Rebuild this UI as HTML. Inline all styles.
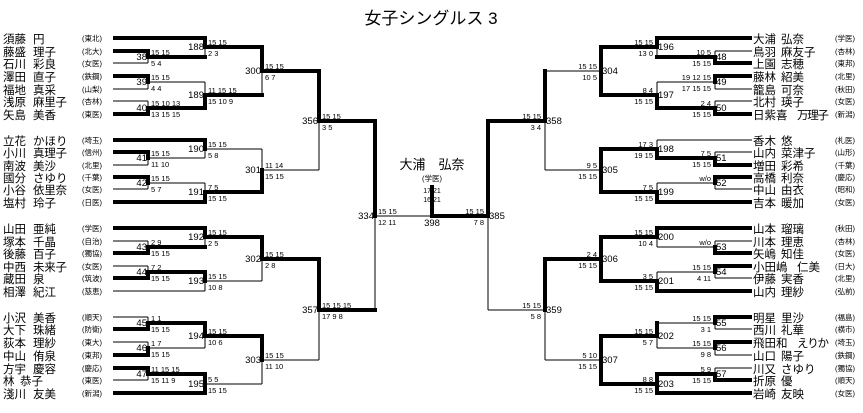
<!DOCTYPE html>
<html><head><meta charset="utf-8"><style>
html,body{margin:0;padding:0;background:#fff;}
svg{display:block;font-family:"Liberation Sans","Noto Sans CJK JP",sans-serif;}
.n{font-size:11.5px;}
.a{font-size:7.5px;}
.m{font-size:9.5px;}
.s{font-size:7.5px;}
.ml{text-anchor:end;}
</style></head><body>
<svg width="863" height="413" viewBox="0 0 863 413" xmlns="http://www.w3.org/2000/svg">
<rect width="863" height="413" fill="#fff"/>
<text x="431" y="24" font-size="17" text-anchor="middle">女子シングルス 3</text>

<path fill="none" stroke="#000" stroke-width="1" d="
M113 63H148 M148 57V63 M148 82V89 M113 89H148 M148 82H205 M113 101H148 M148 101V108 M205 47V57 M205 82V95 M262 71V95 M319 121V170
M113 165H148 M148 158V165 M148 158H205 M205 149V158 M205 149H262 M113 189H148 M148 183V189 M148 183H205 M205 183V192 M262 149V170 M262 170H319
M113 241H148 M148 241V247 M205 237V247 M113 266H148 M148 266V272 M113 291H205 M205 281V291 M205 281H262 M262 259V281 M319 310V360
M113 317H148 M148 317V323 M113 342H148 M148 342V348 M148 348H205 M205 336V348 M113 380H148 M148 374V380 M205 384H262 M262 360V384 M262 360H319
M375 216V310 M375 216H432 M488 216V310 M488 310H545
M715 51H752 M715 51V57 M657 47V57 M715 89H752 M715 82V89 M657 82H715 M657 82V95 M715 101H752 M715 101V108 M545 71H601 M545 121V170
M657 140H752 M657 140V149 M715 152H752 M715 152V158 M715 189H752 M715 183V189 M657 183H715 M657 183V192 M545 170H601
M715 241H752 M715 241V247 M657 247H715 M657 237V247 M715 278H752 M715 272V278 M657 272H715 M657 272V281 M545 310V360
M715 329H752 M715 323V329 M657 323H715 M715 355H752 M715 348V355 M657 348H715 M657 336V348 M715 368H752 M715 368V374 M545 360H601"/>

<path fill="none" stroke="#000" stroke-width="4" stroke-linecap="square" d="
M115 38H205 M115 51H148 M148 51V57 M148 57H205 M205 38V47 M205 47H262 M115 76H148 M148 76V82 M115 114H148 M148 108V114 M148 108H205 M205 95V108 M205 95H262 M262 47V71 M262 71H319 M319 71V121 M319 121H375
M115 140H205 M205 140V149 M115 152H148 M148 152V158 M115 177H148 M148 177V183 M115 202H205 M205 192V202 M205 192H262 M262 170V192
M115 228H205 M205 228V237 M205 237H262 M115 253H148 M148 247V253 M148 247H205 M115 278H148 M148 272V278 M148 272H205 M205 272V281 M262 237V259 M262 259H319 M319 259V310 M319 310H375
M115 329H148 M148 323V329 M148 323H205 M205 323V336 M205 336H262 M115 355H148 M148 348V355 M115 368H148 M148 368V374 M148 374H205 M115 393H205 M205 374V393 M262 336V360
M375 121V216 M432 187V216 M432 216H488 M488 121V216 M488 121H545
M657 38H750 M657 38V47 M715 63H750 M715 57V63 M657 57H715 M601 47H657 M715 76H750 M715 76V82 M715 114H750 M715 108V114 M657 108H715 M657 95V108 M601 95H657 M601 47V95 M545 71V121
M715 165H750 M715 158V165 M657 158H715 M657 149V158 M601 149H657 M715 177H750 M715 177V183 M657 202H750 M657 192V202 M601 192H657 M601 149V192
M657 228H750 M657 228V237 M715 253H750 M715 247V253 M601 237H657 M715 266H750 M715 266V272 M657 291H750 M657 281V291 M601 281H657 M601 237V281 M545 259H601 M545 259V310
M715 317H750 M715 317V323 M601 336H657 M657 323V336 M715 342H750 M715 342V348 M715 380H750 M715 374V380 M657 374H715 M657 393H750 M657 374V393 M601 384H657 M601 336V384"/>

<!-- left names -->
<g class="n">
<text x="3" y="43">須藤<tspan x="33">円</tspan></text>
<text x="3" y="56">藤盛<tspan x="33">理子</tspan></text>
<text x="3" y="68">石川<tspan x="33">彩良</tspan></text>
<text x="3" y="81">澤田<tspan x="33">直子</tspan></text>
<text x="3" y="94">福地<tspan x="33">真采</tspan></text>
<text x="3" y="106">浅原<tspan x="33" textLength="34">麻里子</tspan></text>
<text x="3" y="119">矢島<tspan x="33">美香</tspan></text>
<text x="3" y="145">立花<tspan x="33">かほり</tspan></text>
<text x="3" y="157">小川<tspan x="33" textLength="34">真理子</tspan></text>
<text x="3" y="170">南波<tspan x="33">美沙</tspan></text>
<text x="3" y="182">國分<tspan x="33">さゆり</tspan></text>
<text x="3" y="194">小谷<tspan x="33" textLength="34">依里奈</tspan></text>
<text x="3" y="207">塩村<tspan x="33">玲子</tspan></text>
<text x="3" y="233">山田<tspan x="33">亜純</tspan></text>
<text x="3" y="246">塚本<tspan x="33">千晶</tspan></text>
<text x="3" y="258">後藤<tspan x="33">百子</tspan></text>
<text x="3" y="271">中西<tspan x="33" textLength="34">未来子</tspan></text>
<text x="3" y="283">蔵田<tspan x="33">泉</tspan></text>
<text x="3" y="296">相澤<tspan x="33">紀江</tspan></text>
<text x="3" y="322">小沢<tspan x="33">美香</tspan></text>
<text x="3" y="334">大下<tspan x="33">珠緒</tspan></text>
<text x="3" y="347">荻本<tspan x="33">理紗</tspan></text>
<text x="3" y="360">中山<tspan x="33">侑泉</tspan></text>
<text x="3" y="373">方宇<tspan x="33">慶容</tspan></text>
<text x="3" y="385">林<tspan x="20">恭子</tspan></text>
<text x="3" y="398">淺川<tspan x="33">友美</tspan></text>
</g>
<g class="a">
<text x="82" y="41">(東北)</text><text x="82" y="54">(北大)</text><text x="82" y="66">(女医)</text><text x="82" y="79">(鉄鋼)</text><text x="82" y="92">(山梨)</text><text x="82" y="104">(杏林)</text><text x="82" y="117">(東医)</text>
<text x="82" y="143">(埼玉)</text><text x="82" y="155">(信州)</text><text x="82" y="168">(北里)</text><text x="82" y="180">(千葉)</text><text x="82" y="192">(女医)</text><text x="82" y="205">(日医)</text>
<text x="82" y="231">(学医)</text><text x="82" y="244">(自治)</text><text x="82" y="256">(獨協)</text><text x="82" y="269">(女医)</text><text x="82" y="281">(筑波)</text><text x="82" y="294">(慈恵)</text>
<text x="82" y="320">(順天)</text><text x="82" y="332">(防衛)</text><text x="82" y="345">(東大)</text><text x="82" y="358">(東邦)</text><text x="82" y="371">(慶応)</text><text x="82" y="383">(東医)</text><text x="82" y="396">(新潟)</text>
</g>

<!-- right names -->
<g class="n">
<text x="753" y="43">大浦<tspan x="781">弘奈</tspan></text>
<text x="753" y="56">鳥羽<tspan x="781">麻友子</tspan></text>
<text x="753" y="68">上園<tspan x="781">志穂</tspan></text>
<text x="753" y="81">藤林<tspan x="781">紹美</tspan></text>
<text x="753" y="94">籠島<tspan x="781">可奈</tspan></text>
<text x="753" y="106">北村<tspan x="781">瑛子</tspan></text>
<text x="753" y="119">日紫喜<tspan x="797" textLength="32">万理子</tspan></text>
<text x="753" y="145">香木<tspan x="781">悠</tspan></text>
<text x="753" y="157">山内<tspan x="781">菜津子</tspan></text>
<text x="753" y="170">増田<tspan x="781">彩希</tspan></text>
<text x="753" y="182">高橋<tspan x="781">利奈</tspan></text>
<text x="753" y="194">中山<tspan x="781">由衣</tspan></text>
<text x="753" y="207">吉本<tspan x="781">暖加</tspan></text>
<text x="753" y="233">山本<tspan x="781">瑠璃</tspan></text>
<text x="753" y="246">川本<tspan x="781">理恵</tspan></text>
<text x="753" y="258">矢嶋<tspan x="781">知佳</tspan></text>
<text x="753" y="271">小田嶋<tspan x="797">仁美</tspan></text>
<text x="753" y="283">伊藤<tspan x="781">実香</tspan></text>
<text x="753" y="296">山内<tspan x="781">理紗</tspan></text>
<text x="753" y="322">明星<tspan x="781">里沙</tspan></text>
<text x="753" y="334">西川<tspan x="781">礼華</tspan></text>
<text x="753" y="347">飛田和<tspan x="797" textLength="32">えりか</tspan></text>
<text x="753" y="360">山口<tspan x="781">陽子</tspan></text>
<text x="753" y="373">川又<tspan x="781">さゆり</tspan></text>
<text x="753" y="385">折原<tspan x="781">優</tspan></text>
<text x="753" y="398">岩崎<tspan x="781">友映</tspan></text>
</g>
<g class="a">
<text x="835" y="41">(学医)</text><text x="835" y="54">(杏林)</text><text x="835" y="66">(東邦)</text><text x="835" y="79">(北里)</text><text x="835" y="92">(秋田)</text><text x="835" y="104">(女医)</text><text x="835" y="117">(新潟)</text>
<text x="835" y="143">(札医)</text><text x="835" y="155">(山形)</text><text x="835" y="168">(千葉)</text><text x="835" y="180">(慶応)</text><text x="835" y="192">(昭和)</text><text x="835" y="205">(女医)</text>
<text x="835" y="231">(秋田)</text><text x="835" y="244">(杏林)</text><text x="835" y="256">(女医)</text><text x="835" y="269">(日大)</text><text x="835" y="281">(北里)</text><text x="835" y="294">(弘前)</text>
<text x="835" y="320">(福島)</text><text x="835" y="332">(横市)</text><text x="835" y="345">(埼玉)</text><text x="835" y="358">(鉄鋼)</text><text x="835" y="371">(獨協)</text><text x="835" y="383">(順天)</text><text x="835" y="396">(女医)</text>
</g>

<!-- left match numbers -->
<g class="m ml">
<text x="147" y="60">38</text><text x="147" y="85">39</text><text x="147" y="111">40</text>
<text x="147" y="161">41</text><text x="147" y="186">42</text>
<text x="147" y="250">43</text><text x="147" y="275">44</text>
<text x="147" y="326">45</text><text x="147" y="351">46</text><text x="147" y="377">47</text>
<text x="204" y="50">188</text><text x="204" y="98">189</text><text x="204" y="152">190</text><text x="204" y="195">191</text>
<text x="204" y="240">192</text><text x="204" y="284">193</text><text x="204" y="339">194</text><text x="204" y="387">195</text>
<text x="261" y="74">300</text><text x="261" y="173">301</text><text x="261" y="262">302</text><text x="261" y="363">303</text>
<text x="318" y="124">356</text><text x="318" y="313">357</text>
<text x="374" y="219">334</text>
</g>
<text class="m" x="432" y="226" text-anchor="middle">398</text>
<!-- right match numbers -->
<g class="m">
<text x="716" y="60">48</text><text x="716" y="85">49</text><text x="716" y="111">50</text>
<text x="716" y="161">51</text><text x="716" y="186">52</text>
<text x="716" y="250">53</text><text x="716" y="275">54</text>
<text x="716" y="326">55</text><text x="716" y="351">56</text><text x="716" y="377">57</text>
<text x="658" y="50">196</text><text x="658" y="98">197</text><text x="658" y="152">198</text><text x="658" y="195">199</text>
<text x="658" y="240">200</text><text x="658" y="284">201</text><text x="658" y="339">202</text><text x="658" y="387">203</text>
<text x="602" y="74">304</text><text x="602" y="173">305</text><text x="602" y="262">306</text><text x="602" y="363">307</text>
<text x="546" y="124">358</text><text x="546" y="313">359</text>
<text x="489" y="219">385</text>
</g>

<!-- left scores -->
<g class="s">
<text x="151" y="55">15 15</text><text x="151" y="66">5 4</text>
<text x="151" y="80">15 15</text><text x="151" y="91">4 4</text>
<text x="151" y="106">15 10 13</text><text x="151" y="117">13 15 15</text>
<text x="151" y="156">15 15</text><text x="151" y="167">11 10</text>
<text x="151" y="181">15 15</text><text x="151" y="192">5 7</text>
<text x="151" y="245">2 9</text><text x="151" y="256">15 15</text>
<text x="151" y="270">7 2</text><text x="151" y="281">15 15</text>
<text x="151" y="321">1 1</text><text x="151" y="332">15 15</text>
<text x="151" y="346">1 7</text><text x="151" y="357">15 15</text>
<text x="151" y="372">11 15 15</text><text x="151" y="383">15 11 9</text>
<text x="208" y="45">15 15</text><text x="208" y="56">2 3</text>
<text x="208" y="93">11 15 15</text><text x="208" y="104">15 10 9</text>
<text x="208" y="147">15 15</text><text x="208" y="158">5 8</text>
<text x="208" y="190">7 5</text><text x="208" y="201">15 15</text>
<text x="208" y="235">15 15</text><text x="208" y="246">2 5</text>
<text x="208" y="279">15 15</text><text x="208" y="290">10 8</text>
<text x="208" y="334">15 15</text><text x="208" y="345">10 6</text>
<text x="208" y="382">5 5</text><text x="208" y="393">15 15</text>
<text x="265" y="69">15 15</text><text x="265" y="80">6 7</text>
<text x="265" y="168">11 14</text><text x="265" y="179">15 15</text>
<text x="265" y="257">15 15</text><text x="265" y="268">2 8</text>
<text x="265" y="358">15 15</text><text x="265" y="369">11 10</text>
<text x="322" y="119">15 15</text><text x="322" y="130">3 5</text>
<text x="322" y="308">15 15 15</text><text x="322" y="319">17 9 8</text>
<text x="378" y="214">15 15</text><text x="378" y="225">12 11</text>
</g>
<!-- right scores -->
<g class="s" text-anchor="end">
<text x="711" y="55">10 5</text><text x="711" y="66">15 15</text>
<text x="711" y="80">19 12 15</text><text x="711" y="91">17 15 15</text>
<text x="711" y="106">2 4</text><text x="711" y="117">15 15</text>
<text x="711" y="156">7 5</text><text x="711" y="167">15 15</text>
<text x="711" y="181">w/o</text>
<text x="711" y="245">w/o</text>
<text x="711" y="270">15 15</text><text x="711" y="281">4 11</text>
<text x="711" y="321">15 15</text><text x="711" y="332">3 1</text>
<text x="711" y="346">15 15</text><text x="711" y="357">9 8</text>
<text x="711" y="372">5 9</text><text x="711" y="383">15 15</text>
<text x="653" y="45">15 15</text><text x="653" y="56">13 0</text>
<text x="653" y="93">8 4</text><text x="653" y="104">15 15</text>
<text x="653" y="147">17 3</text><text x="653" y="158">19 15</text>
<text x="653" y="190">7 5</text><text x="653" y="201">15 15</text>
<text x="653" y="235">15 15</text><text x="653" y="246">10 4</text>
<text x="653" y="279">3 5</text><text x="653" y="290">15 15</text>
<text x="653" y="334">15 15</text><text x="653" y="345">5 7</text>
<text x="653" y="382">8 8</text><text x="653" y="393">15 15</text>
<text x="597" y="69">15 15</text><text x="597" y="80">10 5</text>
<text x="597" y="168">9 5</text><text x="597" y="179">15 15</text>
<text x="597" y="257">2 4</text><text x="597" y="268">15 15</text>
<text x="597" y="358">5 10</text><text x="597" y="369">15 15</text>
<text x="541" y="119">15 15</text><text x="541" y="130">3 4</text>
<text x="541" y="308">15 15</text><text x="541" y="319">5 8</text>
<text x="484" y="214">15 15</text><text x="484" y="225">7 8</text>
</g>

<!-- champion -->
<text x="432" y="169" font-size="13" text-anchor="middle">大浦　弘奈</text>
<text x="432" y="181" font-size="7.5" text-anchor="middle">(学医)</text>
<text x="432" y="193" font-size="7" text-anchor="middle">17 21</text>
<text x="432" y="202" font-size="7" text-anchor="middle">16 21</text>
</svg>
</body></html>
